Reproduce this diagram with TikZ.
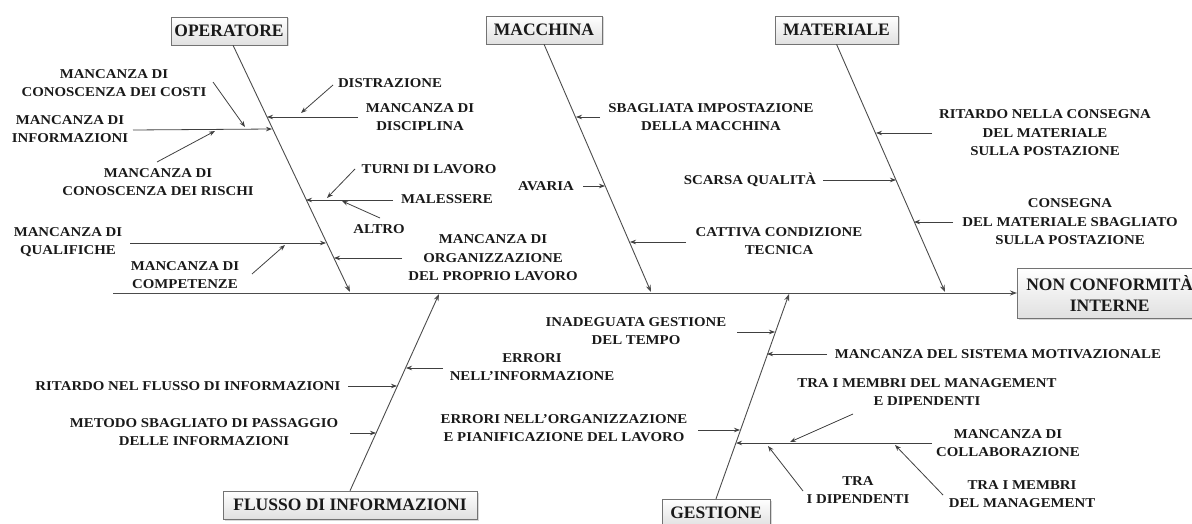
\documentclass[tikz,border=0pt]{standalone}
\usepackage{fontspec}
\setmainfont[FakeStretch=1.1]{Liberation Serif}
\newfontfamily\catfam{Liberation Serif}
\usetikzlibrary{arrows.meta,shadows}

\newcommand\subfont{\fontsize{13.5}{18.5}\selectfont\bfseries}
\newcommand\catfont{\catfam\fontsize{17.5}{21}\selectfont\bfseries}

\begin{document}
\begin{tikzpicture}[x=1pt,y=-1pt,
  every node/.style={align=center,text=black!90,font=\subfont},
  catbox/.style={draw=black!55,top color=white,bottom color=black!12,
    drop shadow={opacity=0.3,shadow xshift=1.5pt,shadow yshift=-1.5pt},
    inner sep=0pt,minimum height=28pt,font=\catfont},
  bone/.style={draw=black!70,line width=0.9pt,-{Stealth[length=7pt,width=5pt]}},
  twig/.style={draw=black!75,line width=0.8pt,-{Stealth[length=6pt,width=4.5pt]}}]
\useasboundingbox (0,0) rectangle (1192,524);

% categories and effect
\node[catbox,minimum width=116pt] (oper) at (229,31) {OPERATORE};
\node[catbox,minimum width=116pt] (macc) at (544,30) {MACCHINA};
\node[catbox,minimum width=123pt] (mate) at (836.5,30) {MATERIALE};
\node[catbox,minimum width=254pt] (flus) at (350,505) {FLUSSO DI INFORMAZIONI};
\node[catbox,minimum width=108pt] (gest) at (716,513) {GESTIONE};
\node[catbox,minimum width=185pt,minimum height=50pt,anchor=west] (nc) at (1017,293) {NON CONFORMITÀ\\INTERNE};

% spine and bones
\coordinate (tail) at (113,293);
\coordinate (oper-hd) at (350,292);
\coordinate (macc-hd) at (651,292);
\coordinate (mate-hd) at (945,292);
\coordinate (flus-hd) at (439,294);
\coordinate (gest-hd) at (789,294);
\draw[bone] (tail) -- (nc.west);
\draw[bone] ([xshift=4pt]oper.south) -- (oper-hd);
\draw[bone] (macc.south) -- (macc-hd);
\draw[bone] (mate.south) -- (mate-hd);
\draw[bone] (flus.north) -- (flus-hd);
\draw[bone] (gest.north) -- (gest-hd);

% operatore
\node (dist) at (390,83) {DISTRAZIONE};
\node (disc) at (420,117) {MANCANZA DI\\DISCIPLINA};
\node (info) at (70,129) {MANCANZA DI\\INFORMAZIONI};
\node (cost) at (114,83) {MANCANZA DI\\CONOSCENZA DEI COSTI};
\node (risc) at (158,182) {MANCANZA DI\\CONOSCENZA DEI RISCHI};
\node (turn) at (429,169) {TURNI DI LAVORO};
\node (male) at (447,199) {MALESSERE};
\node (altr) at (379,229) {ALTRO};
\node (orga) at (493,258) {MANCANZA DI\\ORGANIZZAZIONE\\DEL PROPRIO LAVORO};
\node (qual) at (68,242) {MANCANZA DI\\QUALIFICHE};
\node (comp) at (185,275) {MANCANZA DI\\COMPETENZE};
\coordinate (dist-a) at (333,85);  \coordinate (dist-b) at (301,113);
\coordinate (disc-a) at (358,117); \coordinate (disc-b) at (267,117);
\coordinate (info-a) at (133,130); \coordinate (info-b) at (272,129);
\coordinate (cost-a) at (213,82);  \coordinate (cost-b) at (245,127);
\coordinate (risc-a) at (157,162); \coordinate (risc-b) at (215,131);
\coordinate (turn-a) at (355,169); \coordinate (turn-b) at (327,198);
\coordinate (male-a) at (393,200); \coordinate (male-b) at (306,200);
\coordinate (altr-a) at (380,218); \coordinate (altr-b) at (342,201);
\coordinate (orga-a) at (402,258); \coordinate (orga-b) at (334,258);
\coordinate (qual-a) at (130,243); \coordinate (qual-b) at (326,243);
\coordinate (comp-a) at (252,274); \coordinate (comp-b) at (285,245);

% macchina
\node (impo) at (711,117) {SBAGLIATA IMPOSTAZIONE\\DELLA MACCHINA};
\node (avar) at (546,186) {AVARIA};
\node (catt) at (779,241) {CATTIVA CONDIZIONE\\TECNICA};
\coordinate (impo-a) at (600,117); \coordinate (impo-b) at (576,117);
\coordinate (avar-a) at (583,186); \coordinate (avar-b) at (605,186);
\coordinate (catt-a) at (686,242); \coordinate (catt-b) at (630,242);

% materiale
\node (rima) at (1045,133) {RITARDO NELLA CONSEGNA\\DEL MATERIALE\\SULLA POSTAZIONE};
\node (scar) at (750,180) {SCARSA QUALITÀ};
\node (cons) at (1070,222) {CONSEGNA\\DEL MATERIALE SBAGLIATO\\SULLA POSTAZIONE};
\coordinate (rima-a) at (932,133); \coordinate (rima-b) at (876,133);
\coordinate (scar-a) at (823,180); \coordinate (scar-b) at (896,180);
\coordinate (cons-a) at (953,222); \coordinate (cons-b) at (914,222);

% flusso di informazioni
\node (ritf) at (188,386) {RITARDO NEL FLUSSO DI INFORMAZIONI};
\node (meto) at (204,432) {METODO SBAGLIATO DI PASSAGGIO\\DELLE INFORMAZIONI};
\node (erro) at (532,367) {ERRORI\\NELL’INFORMAZIONE};
\coordinate (ritf-a) at (348,386); \coordinate (ritf-b) at (397,386);
\coordinate (meto-a) at (350,433); \coordinate (meto-b) at (376,433);
\coordinate (erro-a) at (443,368); \coordinate (erro-b) at (406,368);

% gestione
\node (temp) at (636,331) {INADEGUATA GESTIONE\\DEL TEMPO};
\node (moti) at (998,354) {MANCANZA DEL SISTEMA MOTIVAZIONALE};
\node (orgp) at (564,428) {ERRORI NELL’ORGANIZZAZIONE\\E PIANIFICAZIONE DEL LAVORO};
\node (coll) at (1008,443) {MANCANZA DI\\COLLABORAZIONE};
\node (mgdi) at (927,392) {TRA I MEMBRI DEL MANAGEMENT\\E DIPENDENTI};
\node (dipe) at (858,490) {TRA\\I DIPENDENTI};
\node (mgmt) at (1022,494) {TRA I MEMBRI\\DEL MANAGEMENT};
\coordinate (temp-a) at (737,332); \coordinate (temp-b) at (775,332);
\coordinate (moti-a) at (827,354); \coordinate (moti-b) at (767,354);
\coordinate (orgp-a) at (698,430); \coordinate (orgp-b) at (740,430);
\coordinate (coll-a) at (932,443); \coordinate (coll-b) at (736,443);
\coordinate (mgdi-a) at (853,414); \coordinate (mgdi-b) at (790,442);
\coordinate (dipe-a) at (803,491); \coordinate (dipe-b) at (768,446);
\coordinate (mgmt-a) at (943,495); \coordinate (mgmt-b) at (895,445);

\foreach \c in {dist,disc,info,cost,risc,turn,male,altr,orga,qual,comp,
    impo,avar,catt,rima,scar,cons,ritf,meto,erro,
    temp,moti,orgp,coll,mgdi,dipe,mgmt}
  \draw[twig] (\c-a) -- (\c-b);
\end{tikzpicture}
\end{document}
